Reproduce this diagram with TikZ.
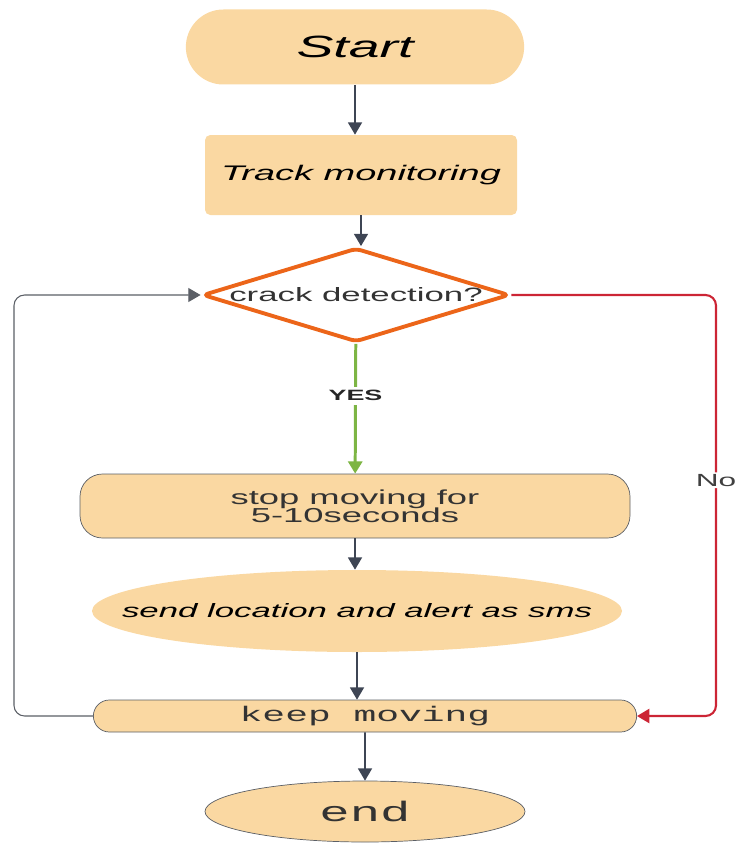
\documentclass[tikz,border=0pt]{standalone}
\usepackage{fontspec}
\newfontfamily\flowsans[FakeStretch=1.8]{Liberation Sans}
\newfontfamily\flowmono[FakeStretch=1.8]{Liberation Mono}
\usepackage{tikz}
\usetikzlibrary{
	positioning				% relative placement
	, arrows.meta			% triangle tips
	, shapes				% diamond, ellipse, rounded rectangle
	, calc
}
\definecolor{peach}{HTML}{FAD8A2}
\definecolor{slate}{HTML}{3E4554}
\definecolor{edgegray}{HTML}{5B5F66}
\definecolor{decorange}{HTML}{EC6519}
\definecolor{yesgreen}{HTML}{7DB544}
\definecolor{nored}{HTML}{CC2535}

\begin{document}
\begin{tikzpicture}[
			element/.style={
				rectangle,
				fill=peach,
				text=black!80,
				text centered,
				font=\flowsans
			},
			pill/.style={
				element,
				rounded rectangle
			},
			outlined/.style={
				draw=edgegray, thin
			},
			decision/.style={
				diamond,
				aspect=3.27,
				draw=decorange, line width=2.2pt,
				fill=white,
				rounded corners=3pt,
				inner sep=0pt,
				font=\flowsans\fontsize{11}{13}\selectfont,
				text=black!80
			},
			arrow/.style={
				->,
				draw=slate,
				line width=0.9pt
			},
			>={Triangle[width=8pt,length=7pt]}]

			\useasboundingbox (0,0) rectangle (14.74,-16.86);

			%%% Boxes from top to bottom
			\node [pill, minimum width=7cm, minimum height=1.5cm, text=black,
				font=\flowsans\itshape\fontsize{17.5}{20}\selectfont] (start) at (7.10,-0.94) {Start};
			\node [element, rounded corners=3pt, minimum width=6.24cm, minimum height=1.6cm, text=black,
				font=\flowsans\itshape\fontsize{12}{14}\selectfont] (track) at (7.22,-3.50) {Track monitoring};
			\node [decision, minimum width=6.14cm, minimum height=1.88cm] (detect) at (7.12,-5.90)
				{\makebox[3cm]{crack detection?}};
			\node [element, outlined, rounded corners=0.45cm, minimum width=11cm, minimum height=1.28cm,
				font=\flowsans\fontsize{11.5}{11.5}\selectfont, align=center] (stop) at (7.10,-10.12)
				{stop moving for\\[-1pt]5-10seconds};
			\node [element, ellipse, inner sep=0pt, minimum width=10.6cm, minimum height=1.64cm, text=black,
				font=\flowsans\itshape\fontsize{11}{13}\selectfont] (send) at (7.14,-12.22)
				{\makebox[6cm]{send location and alert as sms}};
			\node [pill, outlined, minimum width=11.1cm, minimum height=0.64cm, inner ysep=0pt,
				font=\flowmono\fontsize{12}{13}\selectfont] (keep) at (7.30,-14.32) {keep moving};
			\node [element, ellipse, outlined, minimum width=6.4cm, minimum height=1.22cm,
				font=\flowmono\fontsize{16}{18}\selectfont] (end) at (7.30,-16.23) {end};

			% rails for the two side loops
			\coordinate (leftrail) at (0.28,0);
			\coordinate (rightrail) at (14.32,0);

			%%% Straight flow
			\draw [arrow] (start.south) -- (start.south |- track.north);
			\draw [arrow] (track.south) -- (track.south |- detect.north);
			\draw [arrow, draw=yesgreen, line width=1.7pt] (detect) -- node[pos=0.4, fill=white, inner sep=2pt,
				font=\flowsans\bfseries\fontsize{8.5}{10}\selectfont, text=black!85] {YES} (stop);
			\draw [arrow] (stop.south) -- (stop.south |- send.north);
			\draw [arrow] (send.south) -- (send.south |- keep.north);
			\draw [arrow] (keep) -- (end);

			%%% Loops back and the No branch
			\draw [arrow, draw=edgegray, line width=0.6pt, rounded corners=6pt]
				(keep.west) -- (keep.west -| leftrail) |- (detect.west);
			\draw [arrow, draw=nored, line width=1.2pt, rounded corners=6pt]
				(detect.east) -- (detect.east -| rightrail) |- node[pos=0.22, fill=white, inner sep=1pt, text=black!75,
				font=\flowsans\fontsize{10}{12}\selectfont] {No} (keep.east);

		\end{tikzpicture}
\end{document}
